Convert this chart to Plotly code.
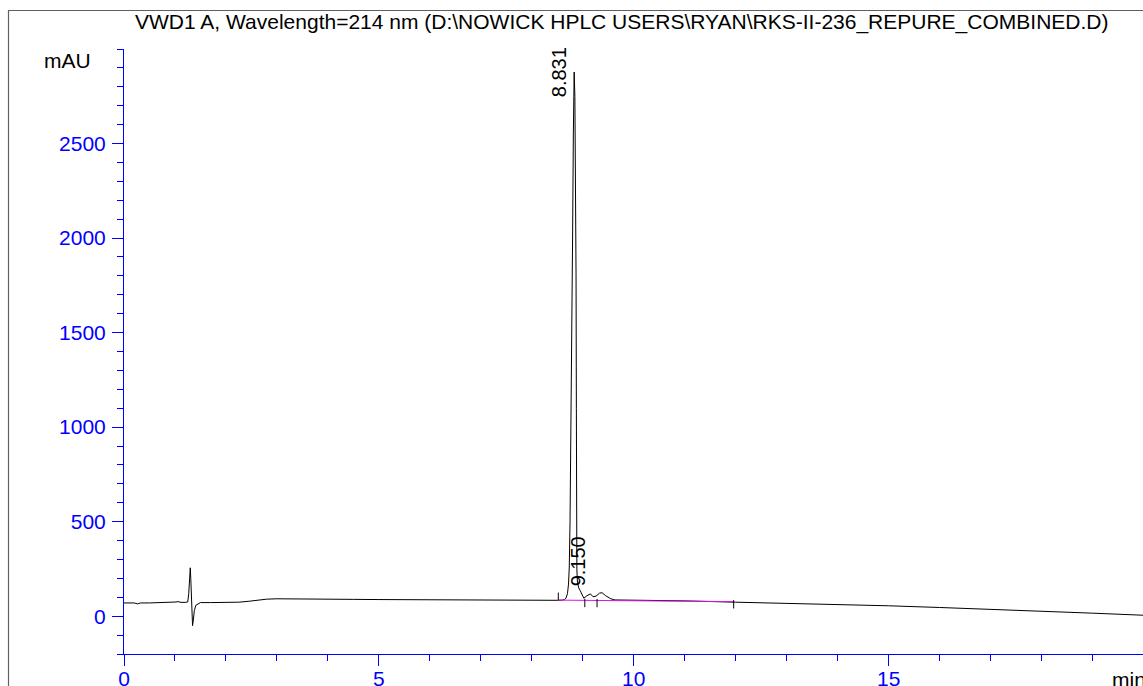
import numpy as np
import plotly.graph_objects as go

# Chromatogram: VWD1 A, 214 nm
time_min = [0.00, 0.20, 0.27, 0.32, 0.50, 0.90, 1.02, 1.06, 1.12, 1.20, 1.25,
            1.27, 1.29, 1.30, 1.31, 1.32, 1.33, 1.345, 1.36, 1.38, 1.41, 1.45,
            1.50, 1.70, 2.00, 2.25, 2.45, 2.65, 2.80, 3.00, 3.50, 4.00, 4.50,
            5.00, 6.00, 7.00, 8.00, 8.50, 8.60, 8.64, 8.67, 8.70, 8.72, 8.735,
            8.75, 8.765, 8.78, 8.80, 8.815, 8.831, 8.845, 8.858, 8.868, 8.874,
            8.878, 8.884, 8.895, 8.92, 8.95, 8.98, 9.02, 9.08, 9.12, 9.150,
            9.20, 9.26, 9.33, 9.38, 9.45, 9.55, 9.63, 10.00, 11.00, 12.00,
            13.00, 14.00, 15.00, 16.00, 17.00, 18.00, 19.00, 20.00]
signal_mau = [70, 70, 65, 70, 70, 71, 75, 77, 73, 73, 75,
              120, 220, 256, 200, 110, 30, -50, -20, 30, 58, 66,
              72, 72, 72, 74, 79, 86, 90, 92, 92, 91, 89,
              88, 86, 84, 83, 84, 85, 88, 95, 120, 170, 260,
              500, 850, 1300, 2000, 2550, 2878, 2750, 2350, 1800, 1100,
              500, 250, 180, 150, 135, 115, 95, 108, 116, 118,
              103, 106, 122, 124, 108, 92, 86, 85, 81, 74,
              68, 62, 55, 46, 37, 27, 16, 5]

# Axis tick values
x_ticks = [0, 5, 10, 15]
y_ticks = [0, 500, 1000, 1500, 2000, 2500]

# Integrated peaks (retention times)
peak_times = [8.831, 9.150]

# Integration baseline and event markers
baseline_t = [8.52, 11.96]
baseline_v = [85, 77]
event_times = [8.52, 9.04, 9.28, 11.96]
event_up = [True, False, False, False]

FONT = "Liberation Sans, Arial, sans-serif"
FS = 21
BLUE = "#0000FF"

fig = go.Figure()

fig.add_trace(go.Scatter(
    x=time_min, y=signal_mau, mode="lines",
    line=dict(color="black", width=1), hoverinfo="skip", showlegend=False))

fig.add_trace(go.Scatter(
    x=baseline_t, y=baseline_v, mode="lines",
    line=dict(color="#E010E0", width=1), hoverinfo="skip", showlegend=False))

# small vertical markers at integration events
ev_x, ev_y = [], []
for t, up in zip(event_times, event_up):
    b = float(np.interp(t, baseline_t, baseline_v))
    lo, hi = (b, b + 40) if up else (b - 36, b + 8)
    ev_x += [t, t, None]
    ev_y += [lo, hi, None]
fig.add_trace(go.Scatter(
    x=ev_x, y=ev_y, mode="lines",
    line=dict(color="black", width=1), hoverinfo="skip", showlegend=False))

# retention-time labels
sig = dict(zip(time_min, signal_mau))
label_place = {8.831: dict(yanchor="middle", yshift=0, xshift=-2),
               9.150: dict(yanchor="bottom", yshift=6, xshift=0)}
for t in peak_times:
    fig.add_annotation(
        x=t, y=sig[t], xref="x", yref="y", text=f"{t:.3f}",
        textangle=-90, showarrow=False, xanchor="right",
        font=dict(family=FONT, size=20, color="black"), **label_place[t])

W, H = 1143, 686
L, R, T, B = 124, 0, 49, 32
pw, ph = W - L - R, H - T - B


def px_x(p):
    return (p - L) / pw


def px_y(p):
    return 1 - (p - T) / ph


fig.add_annotation(
    x=px_x(621), y=px_y(22), xref="paper", yref="paper",
    text=r"VWD1 A, Wavelength=214 nm (D:\NOWICK HPLC USERS\RYAN\RKS-II-236_REPURE_COMBINED.D)",
    showarrow=False, xanchor="center", yanchor="middle",
    font=dict(family=FONT, size=FS, color="black"))
fig.add_annotation(
    x=px_x(42), y=px_y(60), xref="paper", yref="paper", text="mAU",
    showarrow=False, xanchor="left", yanchor="middle",
    font=dict(family=FONT, size=FS, color="black"))
fig.add_annotation(
    x=px_x(1110), y=px_y(679), xref="paper", yref="paper", text="min",
    showarrow=False, xanchor="left", yanchor="middle",
    font=dict(family=FONT, size=FS, color="black"))

# outer frame
fig.add_shape(type="rect", xref="paper", yref="paper",
              x0=px_x(8.5), x1=px_x(W + 20), y0=px_y(H + 20), y1=px_y(10.5),
              line=dict(color="#606060", width=1.2), fillcolor="rgba(0,0,0,0)",
              layer="below")

axis_common = dict(
    showgrid=False, zeroline=False, showline=True, linecolor=BLUE, linewidth=1,
    ticks="outside", ticklen=11, tickwidth=1, tickcolor=BLUE, automargin=False,
    tickfont=dict(family=FONT, size=FS, color=BLUE),
)

fig.update_xaxes(range=[0, 19.99], tickmode="array", tickvals=x_ticks,
                 minor=dict(tick0=0, dtick=1, ticklen=6, tickcolor=BLUE, ticks="outside"),
                 ticklabelstandoff=-5, **axis_common)
fig.update_yaxes(range=[-200, 3000], tickmode="array", tickvals=y_ticks,
                 minor=dict(tick0=0, dtick=100, ticklen=6, tickcolor=BLUE, ticks="outside"),
                 ticklabelstandoff=2, **axis_common)

fig.update_layout(
    width=W, height=H, autosize=False,
    margin=dict(l=L, r=R, t=T, b=B, pad=0, autoexpand=False),
    paper_bgcolor="white", plot_bgcolor="white",
    font=dict(family=FONT, size=FS, color="black"),
    showlegend=False,
)

fig.write_html("out.html")
